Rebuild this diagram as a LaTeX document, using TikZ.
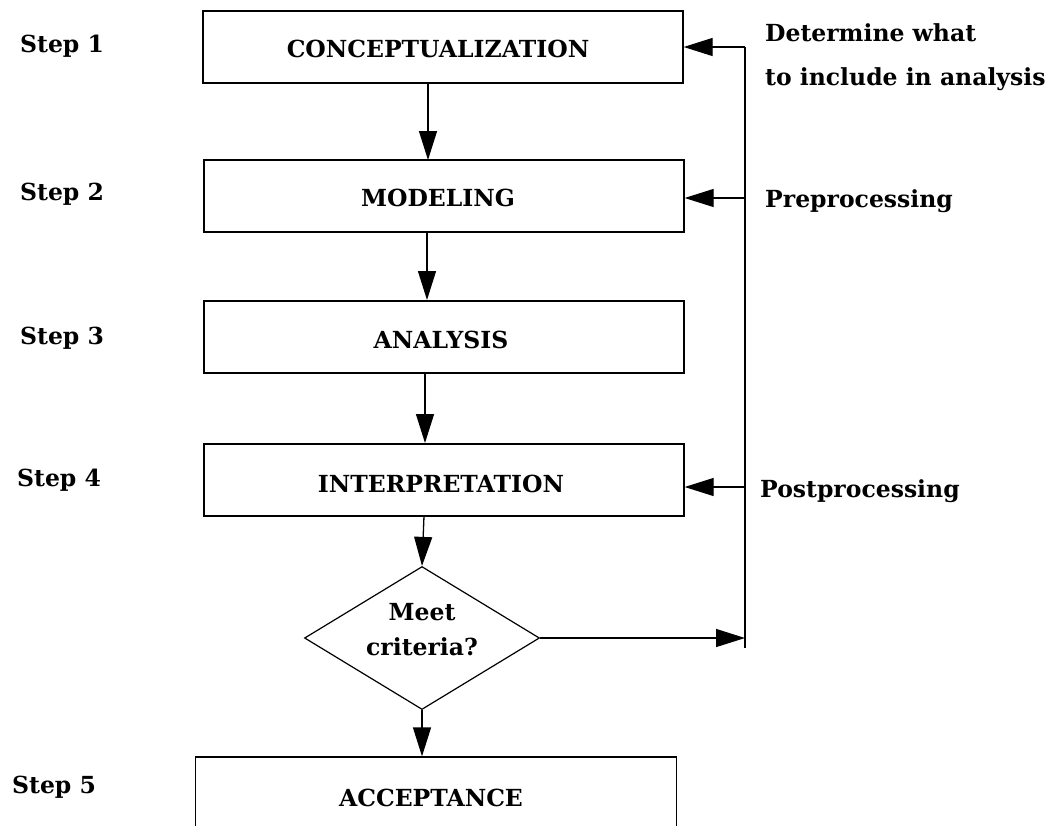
\documentclass[tikz,border=0pt]{standalone}
\usepackage{fontspec}
\setmainfont{DejaVu Serif}
\usetikzlibrary{shapes.geometric,arrows.meta}

\tikzset{
  every node/.style={font=\fontsize{23.5}{35}\selectfont\bfseries},
  stagebox/.style={draw, line width=1.3pt, minimum width=480pt, minimum height=72pt, inner sep=0pt},
  decision/.style={draw, diamond, line width=1.2pt, minimum width=235pt, minimum height=143pt, inner sep=0pt},
  steplabel/.style={anchor=west, inner sep=0pt},
  sidelabel/.style={anchor=west, inner sep=0pt},
  flow/.style={line width=1.3pt, -{Triangle[length=29pt,width=18pt]}},
  rail/.style={line width=1.3pt}
}

\begin{document}
\begin{tikzpicture}[x=1pt,y=-1pt]
  \useasboundingbox (0,0) rectangle (1062,825);
  \clip (0,0) rectangle (1062,825);
  \fill[white] (0,0) rectangle (1062,825);

  % process stages
  \node[stagebox] (concept) at (443,47)  {};
  \node (conceptlabel) at (438,49) {CONCEPTUALIZATION};
  \node[stagebox] (model)   at (444,196) {};
  \node (modellabel) at (438,198) {MODELING};
  \node[stagebox] (anal)    at (444,337) {};
  \node (anallabel) at (441,340) {ANALYSIS};
  \node[stagebox] (interp)  at (444,480) {};
  \node (interplabel) at (441,484) {INTERPRETATION};
  \node[decision] (crit)    at (422,638) {};
  \node (critlabel) at (422,630) [align=center] {Meet\\criteria?};
  \node[stagebox, minimum width=481pt, minimum height=82pt] (accept) at (436,798) {};
  \node (acclabel) at (431,798) {ACCEPTANCE};

  % step labels
  \node[steplabel] (s1) at (20,46)  {Step 1};
  \node[steplabel] (s2) at (20,194) {Step 2};
  \node[steplabel] (s3) at (20,338) {Step 3};
  \node[steplabel] (s4) at (17,480) {Step 4};
  \node[steplabel] (s5) at (12,787) {Step 5};

  % side annotations
  \node[sidelabel] (det1) at (765,33)  {Determine what};
  \node[sidelabel] (det2) at (765,79)  {to include in analysis};
  \node[sidelabel] (pre)  at (765,201) {Preprocessing};
  \node[sidelabel] (post) at (760,491) {Postprocessing};

  % feedback rail on the right
  \coordinate (railtop) at (745,47);
  \coordinate (railbot) at (745,648);
  \coordinate (railpre) at (745,198);
  \coordinate (railpost) at (745,487);
  \coordinate (railin) at (745,638);
  \draw[rail] (railtop) -- (railbot);

  % main flow
  \draw[flow] (428,82) -- (428,160);
  \draw[flow] (427,232) -- (427,300);
  \draw[flow] (425,373) -- (425,443);
  \draw[flow] (424,516) -- (crit.north);
  \draw[flow] (crit.south) -- (crit.south |- accept.north);

  % feedback arrows
  \draw[flow] (crit.east) -- (railin);
  \draw[flow] (railtop) -- (concept.east |- railtop);
  \draw[flow] (railpre) -- (model.east |- railpre);
  \draw[flow] (railpost) -- (interp.east |- railpost);
\end{tikzpicture}
\end{document}
